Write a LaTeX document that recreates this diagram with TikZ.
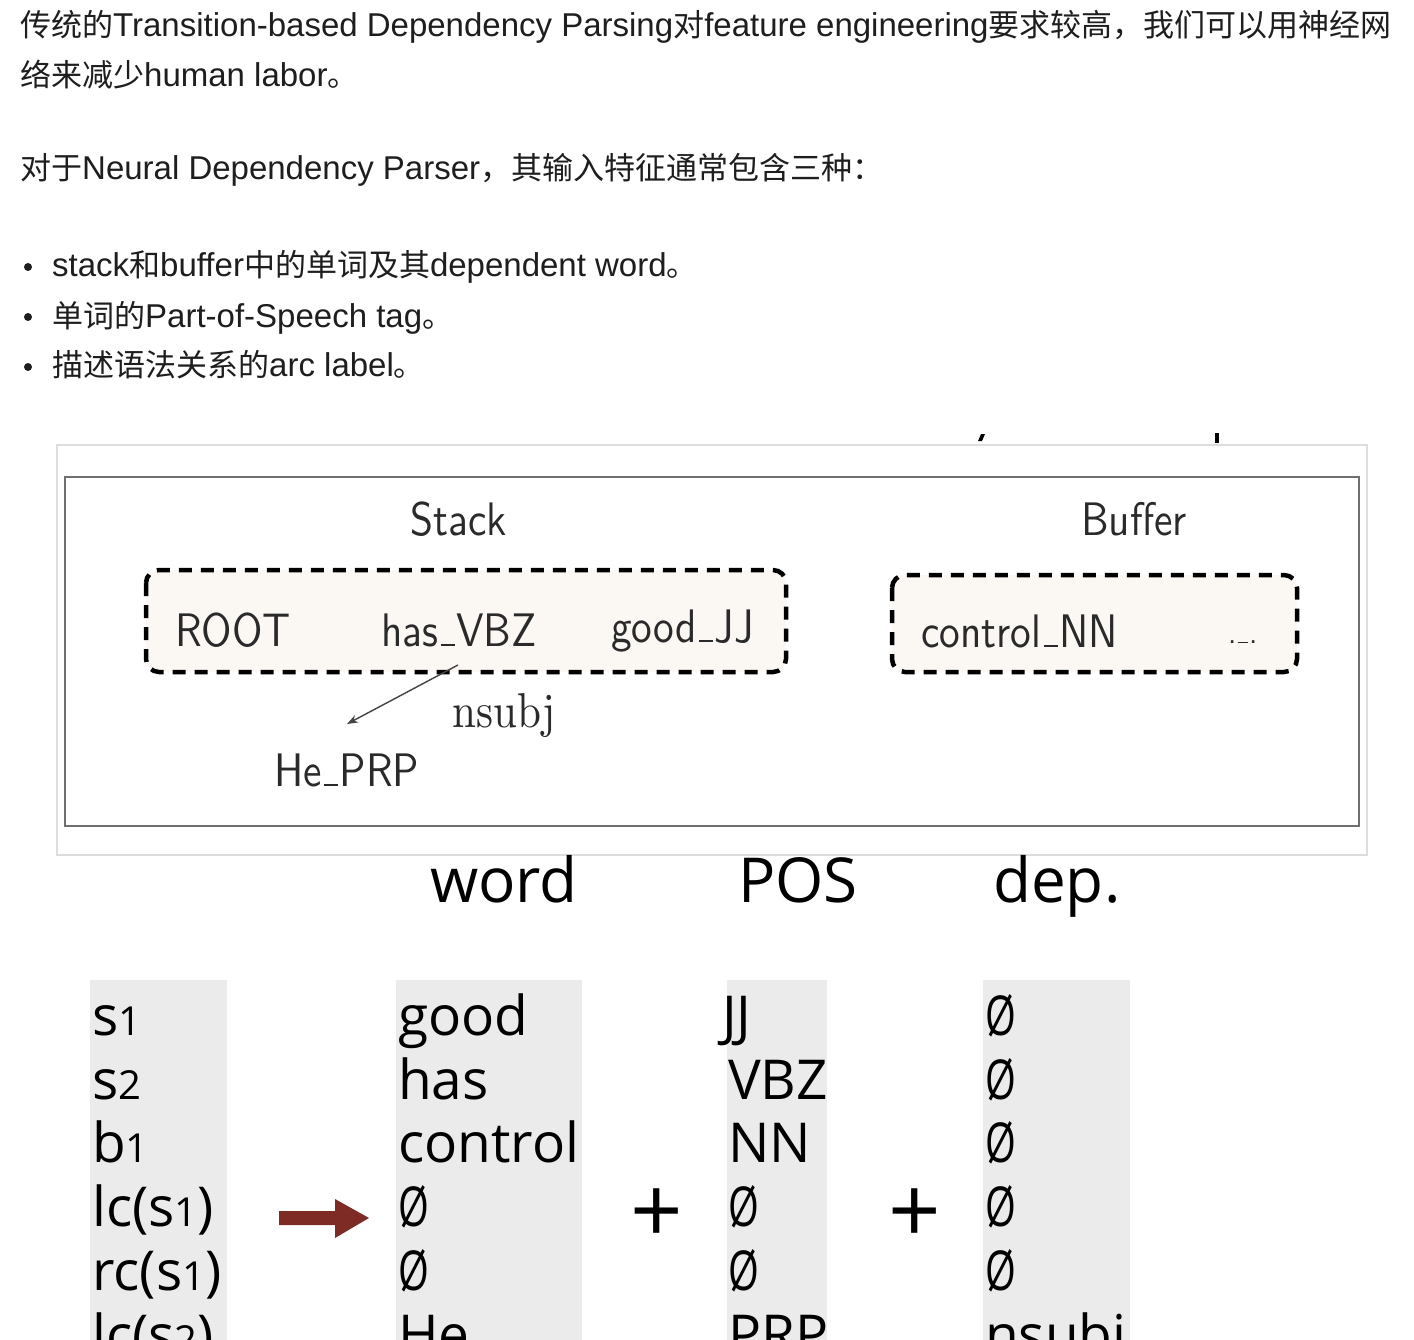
\documentclass[tikz,border=0pt]{standalone}
\usepackage{fontspec}
\usetikzlibrary{arrows.meta}
\newfontfamily\helv{Liberation Sans}
\newfontfamily\cjkf{Noto Sans CJK SC}
\newfontfamily\lmsf{lmsans10-regular.otf}[FakeStretch=0.88]
\newfontfamily\lmrm{lmroman10-regular.otf}[FakeStretch=0.88]
\newfontfamily\osans{Open Sans}
\newcommand\zh[1]{{\fontsize{31}{36}\selectfont\cjkf #1}}
\newcommand\sdig[1]{{\fontsize{40}{44}\selectfont #1}}
\newcommand\emptysym{\scalebox{0.72}[1]{Ø}}
\newcommand\us{\kern.05em\rule[-0.01em]{0.3em}{0.05em}\kern.03em}
\definecolor{textblack}{HTML}{1E1E1E}
\definecolor{slidetext}{HTML}{2A2A2A}
\definecolor{framegray}{HTML}{707070}
\definecolor{outergray}{HTML}{DDDDDD}
\definecolor{boxfill}{HTML}{FBF7F3}
\definecolor{colgray}{HTML}{EBEBEB}
\definecolor{arrowred}{HTML}{7E2B26}
\definecolor{arcgray}{HTML}{444444}
\begin{document}
\begin{tikzpicture}[x=1pt,y=-1pt,
  toptext/.style={anchor=base west, inner sep=0pt, font=\fontsize{33}{38}\selectfont\helv, text=textblack},
  slidelbl/.style={anchor=base west, inner sep=0pt, font=\fontsize{47}{52}\selectfont\lmsf, text=slidetext},
  arclbl/.style={anchor=base west, inner sep=0pt, font=\fontsize{49}{54}\selectfont\lmrm, text=slidetext},
  dashbox/.style={draw=black, line width=4.5pt, dash pattern=on 13pt off 9pt, rounded corners=13pt, fill=boxfill},
  hdr/.style={anchor=base west, inner sep=0pt, font=\fontsize{62}{66}\selectfont\osans, text=black},
  cell/.style={anchor=base west, inner sep=0pt, font=\fontsize{55}{60}\selectfont\osans, text=black},
  plussign/.style={inner sep=0pt, font=\fontsize{92}{96}\selectfont\osans, text=black},
  column/.style={fill=colgray, draw=none}
]
\fill[white] (0,0) rectangle (1414,1340);
\useasboundingbox (0,0) rectangle (1414,1340);
\clip (0,0) rectangle (1414,1340);

% ---------- top text ----------
\node[toptext] (l1) at (20,37) {\zh{传统的}Transition-based Dependency Parsing\zh{对}feature engineering\zh{要求较高，我们可以用神经网}};
\node[toptext] (l2) at (20,87) {\zh{络来减少}human labor\zh{。}};
\node[toptext] (l3) at (20,180) {\zh{对于}Neural Dependency Parser\zh{，其输入特征通常包含三种：}};
\fill[textblack] (28,267) circle (4);
\fill[textblack] (28,317) circle (4);
\fill[textblack] (28,367) circle (4);
\node[toptext] (b1) at (52,277) {stack\zh{和}buffer\zh{中的单词及其}dependent word\zh{。}};
\node[toptext] (b2) at (52,327) {\zh{单词的}Part-of-Speech tag\zh{。}};
\node[toptext] (b3) at (52,377) {\zh{描述语法关系的}arc label\zh{。}};

% ---------- cut-off marks above the figure ----------
\fill[black] (978,441) -- (981,434) -- (985,434) -- (982,441) -- cycle;
\fill[black] (1215,433) rectangle (1219,443);

% ---------- embedded figure ----------
\draw[outergray, line width=1.5pt] (57,445) rectangle (1367,855);
\draw[framegray, line width=2.5pt] (65,477) rectangle (1359,826);
\node[slidelbl] (stacklbl) at (410,535) {Stack};
\node[slidelbl] (bufferlbl) at (1081,535) {Buffer};
\draw[dashbox] (146,570) rectangle (786,672);
\draw[dashbox] (892,575) rectangle (1297,672);
\node[slidelbl] (root) at (175,646) {ROOT};
\node[slidelbl] (hasvbz) at (381,646) {has\us VBZ};
\node[slidelbl] (goodjj) at (611,642) {good\us JJ};
\node[slidelbl] (controlnn) at (921,647) {control\us NN};
\node[slidelbl, font=\fontsize{34}{38}\selectfont\lmsf] (ellip) at (1228,643) {.\us.};
\node[slidelbl] (heprp) at (274,786) {He\us PRP};
\node[arclbl] (nsubj) at (452,727) {nsubj};
\coordinate (arcstart) at (458,665);
\coordinate (arcend) at (347,724);
\draw[arcgray, line width=1.4pt, -{Stealth[length=11pt,width=8pt]}] (arcstart) -- (arcend);

% ---------- headers ----------
\node[hdr] (hword) at (430,902) {word};
\node[hdr] (hpos) at (738,902) {POS};
\node[hdr] (hdep) at (993,902) {dep.};

% ---------- columns ----------
\fill[column] (90,980) rectangle (227,1345);
\fill[column] (396,980) rectangle (582,1345);
\fill[column] (727,980) rectangle (827,1345);
\fill[column] (983,980) rectangle (1130,1345);

% column 1
\node[cell] (r1) at (92,1035) {s\sdig{1}};
\node[cell] (r2) at (92,1099) {s\sdig{2}};
\node[cell] (r3) at (92,1162) {b\sdig{1}};
\node[cell] (r4) at (92,1226) {lc(s\sdig{1})};
\node[cell] (r5) at (92,1290) {rc(s\sdig{1})};
\node[cell] (r6) at (92,1354) {lc(s\sdig{2})};
% column 2
\node[cell] (w1) at (398,1035) {good};
\node[cell] (w2) at (398,1099) {has};
\node[cell] (w3) at (398,1162) {control};
\node[cell] (w4) at (398,1226) {\emptysym};
\node[cell] (w5) at (398,1290) {\emptysym};
\node[cell] (w6) at (398,1354) {He};
% column 3
\node[cell] (p1) at (722,1035) {JJ};
\node[cell] (p2) at (728,1099) {VBZ};
\node[cell] (p3) at (728,1162) {NN};
\node[cell] (p4) at (728,1226) {\emptysym};
\node[cell] (p5) at (728,1290) {\emptysym};
\node[cell] (p6) at (728,1354) {PRP};
% column 4
\node[cell] (d1) at (985,1035) {\emptysym};
\node[cell] (d2) at (985,1099) {\emptysym};
\node[cell] (d3) at (985,1162) {\emptysym};
\node[cell] (d4) at (985,1226) {\emptysym};
\node[cell] (d5) at (985,1290) {\emptysym};
\node[cell] (d6) at (985,1354) {nsubj};

% red arrow and plus signs
\fill[arrowred] (279,1211) -- (335,1211) -- (335,1199) -- (369,1218) -- (335,1238) -- (335,1225) -- (279,1225) -- cycle;
\node[plussign] (plus1) at (657,1216) {+};
\node[plussign] (plus2) at (915,1216) {+};
\end{tikzpicture}
\end{document}
